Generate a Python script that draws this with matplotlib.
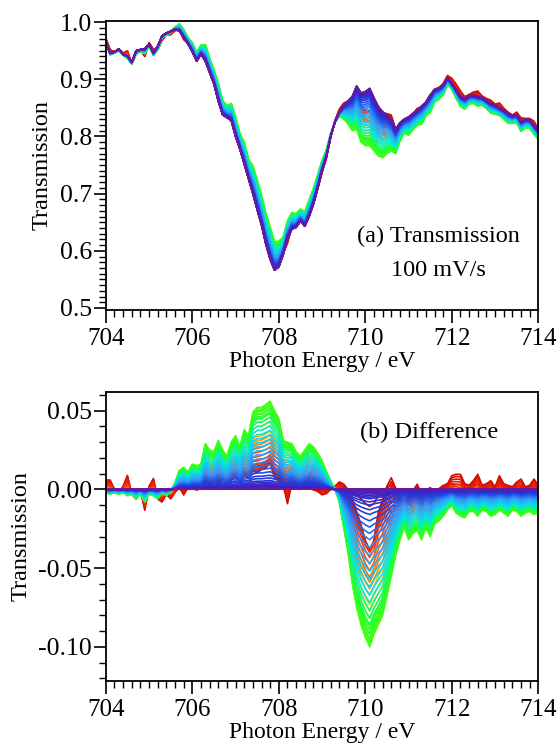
import numpy as np
import matplotlib.pyplot as plt
from matplotlib.colors import LinearSegmentedColormap
from matplotlib.ticker import MultipleLocator

plt.rcParams['font.family'] = ['Liberation Serif', 'DejaVu Serif']

# photon energy grid, 0.1 eV steps
energy = np.linspace(704.0, 714.0, 101)

# reference spectrum (last / violet trace of panel a)
base_T = [
    0.966, 0.946, 0.948, 0.953, 0.944, 0.941, 0.930, 0.950, 0.952, 0.953,
    0.962, 0.946, 0.958, 0.976, 0.981, 0.984, 0.987, 0.985, 0.973, 0.962,
    0.948, 0.932, 0.944, 0.932, 0.912, 0.892, 0.862, 0.838, 0.833, 0.828,
    0.800, 0.778, 0.752, 0.726, 0.700, 0.672, 0.645, 0.612, 0.585, 0.566,
    0.572, 0.593, 0.622, 0.638, 0.641, 0.652, 0.643, 0.660, 0.682, 0.710,
    0.740, 0.765, 0.800, 0.826, 0.843, 0.855, 0.862, 0.870, 0.888, 0.876,
    0.878, 0.884, 0.867, 0.852, 0.843, 0.838, 0.830, 0.812, 0.824, 0.830,
    0.834, 0.840, 0.846, 0.853, 0.860, 0.872, 0.882, 0.885, 0.890, 0.903,
    0.893, 0.882, 0.870, 0.866, 0.871, 0.872, 0.870, 0.868, 0.863, 0.858,
    0.855, 0.850, 0.846, 0.840, 0.836, 0.838, 0.826, 0.830, 0.829, 0.820,
    0.810,
]

# largest difference (green traces)
diff_green = [
    -0.002, -0.003, -0.002, -0.003, -0.002, -0.004, -0.003, -0.006, -0.003, -0.008,
    -0.003, -0.004, -0.006, -0.002, -0.004, -0.001, 0.004, 0.012, 0.014, 0.011,
    0.016, 0.015, 0.016, 0.029, 0.025, 0.024, 0.031, 0.025, 0.021, 0.030,
    0.034, 0.027, 0.038, 0.034, 0.049, 0.052, 0.052, 0.054, 0.056, 0.050,
    0.045, 0.031, 0.030, 0.029, 0.024, 0.021, 0.025, 0.029, 0.027, 0.023,
    0.018, 0.011, 0.005, 0.000, -0.008, -0.024, -0.040, -0.060, -0.075, -0.086,
    -0.094, -0.100, -0.092, -0.086, -0.080, -0.068, -0.055, -0.042, -0.032, -0.024,
    -0.032, -0.028, -0.026, -0.032, -0.024, -0.030, -0.022, -0.020, -0.017, -0.013,
    -0.010, -0.015, -0.017, -0.018, -0.014, -0.014, -0.017, -0.013, -0.014, -0.017,
    -0.016, -0.013, -0.015, -0.017, -0.013, -0.014, -0.017, -0.015, -0.014, -0.016,
    -0.015,
]

# extra wiggles of the early (red) traces
diff_red = [
    0.006, 0.006, 0.000, -0.002, 0.002, 0.009, -0.003, -0.006, 0.000, -0.013,
    0.002, 0.007, -0.006, -0.008, -0.003, -0.006, -0.002, 0.001, -0.004, 0.001,
    0.003, -0.001, 0.002, 0.004, 0.002, 0.005, 0.003, 0.006, 0.002, 0.005,
    0.007, 0.004, 0.008, 0.006, 0.010, 0.009, 0.011, 0.012, 0.015, 0.006,
    0.004, 0.002, -0.010, 0.003, 0.002, 0.000, 0.003, 0.002, -0.001, -0.002,
    -0.004, -0.003, 0.000, 0.002, 0.005, 0.004, 0.001, -0.004, -0.012, -0.020,
    -0.030, -0.036, -0.030, -0.012, -0.004, 0.004, 0.009, 0.002, -0.004, -0.008,
    -0.003, 0.000, 0.004, -0.002, 0.000, 0.002, -0.001, 0.001, 0.003, 0.004,
    0.009, 0.010, 0.010, 0.004, 0.003, 0.006, 0.010, 0.003, 0.004, 0.006,
    0.002, 0.009, 0.004, 0.003, 0.002, 0.005, 0.007, 0.002, 0.003, 0.007,
    0.003,
]

# weight of each trace (red -> violet order)
w_green = [
    0.00, 0.03, 0.06, 0.10, 0.14, 0.18, 0.22, 0.27,
    0.33, 0.39, 0.45, 0.50, 0.56, 0.62,
    0.70, 0.76, 0.82,
    0.87, 0.92, 0.96, 1.00, 0.98, 0.95, 0.92, 0.89, 0.86,
    0.82, 0.77, 0.72, 0.67, 0.62, 0.57, 0.52,
    0.47, 0.42, 0.37, 0.32, 0.28, 0.24, 0.20, 0.16, 0.13, 0.10,
    0.08, 0.06, 0.05, 0.04, 0.03, 0.02, 0.015, 0.01, 0.005, 0.0, 0.0, 0.0, 0.0,
]
w_red = [
    0.30, 1.00, 0.90, 0.80, 0.70, 0.60, 0.50, 0.45,
    0.40, 0.35, 0.30, 0.25, 0.20, 0.15,
    0.10, 0.05, 0.00,
] + [0.0] * 39

rainbow = LinearSegmentedColormap.from_list('igor_rainbow', [
    (0.00, '#cc0000'), (0.12, '#ff3300'), (0.20, '#ff8000'), (0.27, '#ffee00'),
    (0.33, '#55ff00'), (0.45, '#20ff30'), (0.52, '#00e8e0'), (0.62, '#30a0ff'),
    (0.72, '#2040e0'), (0.85, '#4020c0'), (1.00, '#6a1a9a'),
])

base = np.array(base_T)
dg = np.array(diff_green)
dr = np.array(diff_red)
n = len(w_green)

fig = plt.figure(figsize=(5.57, 7.48), dpi=100)
ax1 = fig.add_axes([0.190, 0.5856, 0.7765, 0.3867])
ax2 = fig.add_axes([0.190, 0.0896, 0.7765, 0.3867])

for k in range(n):
    c = rainbow(k / (n - 1))
    d = w_green[k] * dg + w_red[k] * dr
    ax1.plot(energy, base + d, color=c, lw=1.2)
    ax2.plot(energy, d, color=c, lw=1.2)

for ax in (ax1, ax2):
    ax.set_xlim(704, 714)
    ax.xaxis.set_major_locator(MultipleLocator(2))
    ax.xaxis.set_minor_locator(MultipleLocator(0.2))
    ax.tick_params(axis='both', which='major', direction='out', length=9, width=1.2,
                   top=False, right=False)
    ax.tick_params(axis='both', which='minor', direction='out', length=5, width=1.0,
                   top=False, right=False)
    ax.tick_params(axis='x', labelsize=18, pad=4)
    ax.tick_params(axis='y', labelsize=18.5, pad=1)
    for s in ax.spines.values():
        s.set_linewidth(1.3)
    ax.set_xlabel('Photon Energy / eV', fontsize=17, labelpad=1)
    ax.set_ylabel('Transmission', fontsize=17.5, labelpad=5)

ax1.set_ylim(0.4965, 1.0025)
ax1.yaxis.set_major_locator(MultipleLocator(0.1))
ax1.yaxis.set_minor_locator(MultipleLocator(0.01))
ax1.yaxis.set_major_formatter(plt.FormatStrFormatter('%.1f'))
ax1.text(0.77, 0.255, '(a) Transmission', transform=ax1.transAxes,
         ha='center', va='center', fontsize=17.5)
ax1.text(0.77, 0.137, '100 mV/s', transform=ax1.transAxes,
         ha='center', va='center', fontsize=17.5)

ax2.set_ylim(-0.1217, 0.062)
ax2.yaxis.set_major_locator(MultipleLocator(0.05))
ax2.yaxis.set_minor_locator(MultipleLocator(0.01))
ax2.yaxis.set_major_formatter(plt.FormatStrFormatter('%.2f'))
ax2.text(0.747, 0.86, '(b) Difference', transform=ax2.transAxes,
         ha='center', va='center', fontsize=17.5)

fig.savefig('out.png', dpi=100)
